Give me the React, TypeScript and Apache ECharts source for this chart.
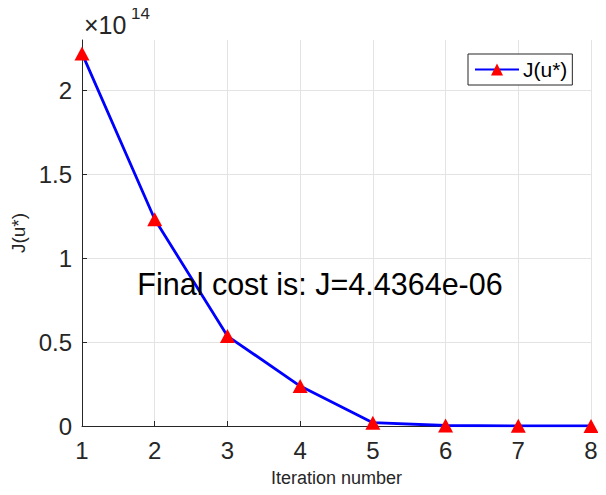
import React, { useEffect, useRef } from "react";
import * as echarts from "echarts";

const iterations = [1, 2, 3, 4, 5, 6, 7, 8];
const costValues = [2.22e14, 1.232e14, 0.536e14, 0.238e14, 0.02e14, 0.003e14, 0.0008e14, 0.0003e14];
const yTickScale = 1e14;
const seriesName = "J(u*)";
const xAxisName = "Iteration number";
const yAxisName = "J(u*)";
const annotation = "Final cost is: J=4.4364e-06";

const FONT = "'Liberation Sans', Arial, Helvetica, sans-serif";
const AXIS = "#262626";
const GRID = "#e3e3e3";

export default function App() {
  const ref = useRef<HTMLDivElement>(null);
  useEffect(() => {
    if (!ref.current) return;
    const chart = echarts.init(ref.current, undefined, { renderer: "svg" });
    const data = iterations.map((x, i) => [x, costValues[i]]);
    chart.setOption({
      animation: false,
      backgroundColor: "#ffffff",
      textStyle: { fontFamily: FONT },
      grid: { left: 82, right: 15, top: 40, bottom: 69, containLabel: false, outerBoundsMode: "none" },
      legend: {
        data: [seriesName],
        left: 468,
        top: 54,
        backgroundColor: "#ffffff",
        borderColor: AXIS,
        borderWidth: 1,
        borderRadius: 0,
        padding: [5, 5, 5, 6],
        itemWidth: 44,
        itemHeight: 15,
        textStyle: { fontSize: 21, color: "#000000", fontFamily: FONT, padding: [0, 0, 0, -1] },
      },
      xAxis: {
        type: "value",
        min: 1,
        max: 8,
        interval: 1,
        name: xAxisName,
        nameLocation: "middle",
        nameGap: 43,
        nameTextStyle: { fontSize: 18, color: AXIS, fontFamily: FONT },
        axisLine: { show: true, onZero: false, lineStyle: { color: AXIS, width: 1 } },
        axisTick: { show: true, inside: true, length: 5, lineStyle: { color: AXIS } },
        axisLabel: { fontSize: 24, color: AXIS, margin: 12, fontFamily: FONT },
        splitLine: { show: true, showMinLine: false, showMaxLine: true, lineStyle: { color: GRID, width: 1 } },
      },
      yAxis: {
        type: "value",
        min: 0,
        max: 2.3e14,
        interval: 0.5e14,
        name: yAxisName,
        nameLocation: "middle",
        nameGap: 52,
        nameTextStyle: { fontSize: 19, color: AXIS, fontFamily: FONT },
        axisLine: { show: true, onZero: false, lineStyle: { color: AXIS, width: 1 } },
        axisTick: { show: true, inside: true, length: 5, lineStyle: { color: AXIS } },
        axisLabel: {
          fontSize: 24,
          color: AXIS,
          margin: 10,
          fontFamily: FONT,
          showMaxLabel: false,
          formatter: (v: number) => String(Math.round((v / yTickScale) * 10) / 10),
        },
        splitLine: { show: true, showMinLine: false, showMaxLine: false, lineStyle: { color: GRID, width: 1 } },
      },
      series: [
        {
          name: seriesName,
          type: "line",
          data,
          symbol: "triangle",
          symbolSize: [15, 14],
          showAllSymbol: true,
          lineStyle: { color: "#0000ff", width: 2.8 },
          itemStyle: { color: "#ff0000", borderWidth: 0 },
          z: 3,
        },
      ],
      graphic: [
        {
          type: "text",
          left: 84,
          top: 12,
          style: { text: "×10", font: `25px ${FONT}`, fill: AXIS },
        },
        {
          type: "text",
          left: 131,
          top: 5,
          style: { text: "14", font: `17px ${FONT}`, fill: AXIS },
        },
        {
          type: "text",
          x: 320,
          y: 284,
          z: 100,
          style: {
            text: annotation,
            font: `30.5px ${FONT}`,
            fill: "#000000",
            align: "center",
            verticalAlign: "middle",
          },
        },
      ],
    });
    return () => chart.dispose();
  }, []);
  return <div ref={ref} style={{ width: 606, height: 495, margin: -8 }} />;
}
